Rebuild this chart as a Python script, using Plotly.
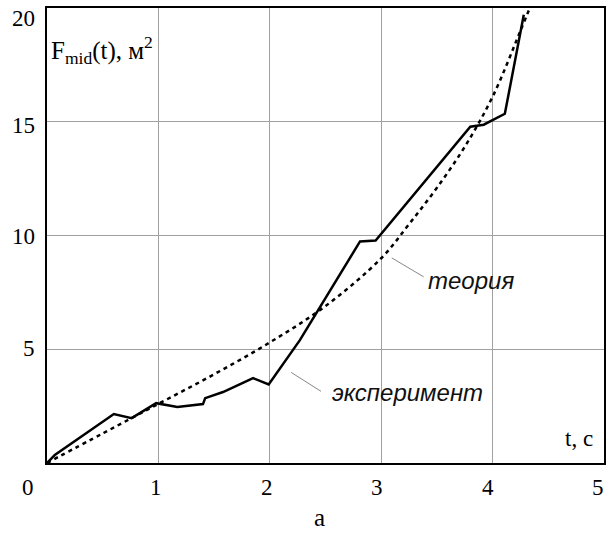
import plotly.graph_objects as go

# Experimental curve
t_exp = [0, 0.07, 0.60, 0.76, 0.98, 1.17, 1.40, 1.42, 1.58, 1.85, 1.99, 2.27, 2.81, 2.95, 3.80, 3.92, 4.11, 4.28]
f_exp = [0, 0.35, 2.15, 1.97, 2.63, 2.46, 2.59, 2.85, 3.12, 3.73, 3.45, 5.4, 9.74, 9.78, 14.78, 14.87, 15.35, 19.7]

# Theoretical curve
t_th = [0, 0.5, 1.0, 1.5, 2.0, 2.5, 3.0, 3.25, 3.5, 3.75, 4.0, 4.25, 4.35]
f_th = [0, 1.3, 2.6, 3.9, 5.3, 6.9, 9.0, 10.5, 12.1, 13.9, 16.1, 19.0, 20.2]

x_ticks = [0, 1, 2, 3, 4, 5]
x_tick_labels = ["0", "1", "2", "3", "4", "5"]
y_ticks = [5, 10, 15, 20]
y_tick_labels = ["5", "10", "15", "20"]

W, H = 612, 534
L, R, T, B = 47, 6, 6, 71
pw, ph = W - L - R, H - T - B

def px(x):
    return (x - L) / pw

def py(y):
    return (H - B - y) / ph

fig = go.Figure()
fig.add_trace(go.Scatter(x=t_th, y=f_th, mode="lines", line=dict(color="black", width=2.5, dash="4px,4px", shape="spline"), showlegend=False))
fig.add_trace(go.Scatter(x=t_exp, y=f_exp, mode="lines", line=dict(color="black", width=2.5), showlegend=False))

serif = "Liberation Serif"
sans = "Liberation Sans"
ann = []
# x tick labels (offset left as in reference)
x_label_px = [28, 156, 268, 378, 490, 600]
for lab, xp in zip(x_tick_labels, x_label_px):
    ann.append(dict(text=lab, xref="paper", yref="paper", x=px(xp), y=py(488), showarrow=False,
                    xanchor="center", yanchor="middle", font=dict(family=serif, size=23, color="black")))
y_label_py = [348, 236, 124, 17]
for lab, yp in zip(y_tick_labels, y_label_py):
    ann.append(dict(text=lab, xref="paper", yref="paper", x=px(37), y=py(yp), showarrow=False,
                    xanchor="right", yanchor="middle", font=dict(family=serif, size=23, color="black")))

ann.append(dict(text="F<sub>mid</sub>(t), м<sup>2</sup>", xref="paper", yref="paper", x=px(49), y=py(48),
                showarrow=False, xanchor="left", yanchor="middle", font=dict(family=serif, size=25, color="black")))
ann.append(dict(text="t, с", xref="paper", yref="paper", x=px(597), y=py(438),
                showarrow=False, xanchor="right", yanchor="middle", font=dict(family=serif, size=23, color="black")))
ann.append(dict(text="а", xref="paper", yref="paper", x=px(320), y=py(518),
                showarrow=False, xanchor="center", yanchor="middle", font=dict(family=serif, size=25, color="black")))
ann.append(dict(text="<i>теория</i>", xref="paper", yref="paper", x=px(427), y=py(280),
                showarrow=False, xanchor="left", yanchor="middle", font=dict(family=sans, size=24, color="#111")))
ann.append(dict(text="<i>эксперимент</i>", xref="paper", yref="paper", x=px(331), y=py(392),
                showarrow=False, xanchor="left", yanchor="middle", font=dict(family=sans, size=24, color="#111")))

shapes = [
    dict(type="line", xref="paper", yref="paper", x0=px(393), y0=py(257), x1=px(425), y1=py(276),
         line=dict(color="#888", width=1)),
    dict(type="line", xref="paper", yref="paper", x0=px(292), y0=py(372), x1=px(322), y1=py(391),
         line=dict(color="#888", width=1)),
]

fig.update_layout(
    width=W, height=H,
    margin=dict(l=L, r=R, t=T, b=B),
    paper_bgcolor="white", plot_bgcolor="white",
    annotations=ann, shapes=shapes,
    xaxis=dict(range=[0, 5], tickvals=x_ticks, showticklabels=False, ticks="",
               showgrid=True, gridcolor="#a0a0a0", gridwidth=1, zeroline=False,
               showline=True, linecolor="black", linewidth=2, mirror=True),
    yaxis=dict(range=[0, 20], tickvals=y_ticks, showticklabels=False, ticks="",
               showgrid=True, gridcolor="#a0a0a0", gridwidth=1, zeroline=False,
               showline=True, linecolor="black", linewidth=2, mirror=True),
)

fig.write_html("out.html", config={"displayModeBar": False},
               post_script="document.body.style.margin='0';document.body.style.overflow='hidden';")
